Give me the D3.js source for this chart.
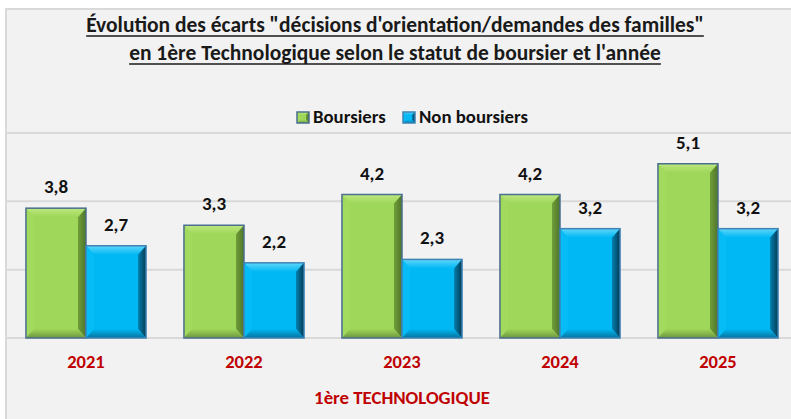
<!DOCTYPE html>
<html><head><meta charset="utf-8">
<script src="https://cdn.jsdelivr.net/npm/d3@7"></script>
<style>
html,body{margin:0;padding:0;background:#fff;}
svg{display:block;}
text{font-family:Carlito,Calibri,"Liberation Sans Narrow","Open Sans",sans-serif;font-weight:bold;}
</style></head>
<body><svg id="c" width="791" height="419"></svg>
<script>
const years = ["2021","2022","2023","2024","2025"];
const boursiers = [3.8, 3.3, 4.2, 4.2, 5.1];
const nonBoursiers = [2.7, 2.2, 2.3, 3.2, 3.2];
const seriesNames = ["Boursiers", "Non boursiers"];
const yTicks = [0, 2, 4, 6];
const titleLines = ["Évolution des écarts \"décisions d'orientation/demandes des familles\"",
                    "en 1ère Technologique selon le statut de boursier et l'année"];
const axisTitle = "1ère TECHNOLOGIQUE";

const svg = d3.select("#c");
const W = 791, H = 419;

// chart area
svg.append("rect").attr("x",6).attr("y",9).attr("width",W).attr("height",H)
  .attr("fill","#f2f2f2").attr("stroke","#d9d9d9").attr("stroke-width",2);

const defs = svg.append("defs");
function grad(id, stops, x2, y2){
  const g = defs.append("linearGradient").attr("id",id).attr("x1",0).attr("y1",0).attr("x2",x2).attr("y2",y2);
  stops.forEach(s=>g.append("stop").attr("offset",s[0]).attr("stop-color",s[1]));
}
const pal = {
  g:{face:"#9ed75a", top:"#bde87f", left:"#a2da5e", right:["#6f9e3a","#4f7428"], bottom:"#6e963e", stroke:"#4a6f8f"},
  b:{face:"#00b8f4", top:"#5fd6fb", left:"#06bcf6", right:["#0480ae","#043a55"], bottom:"#05739e", stroke:"#3f83b5"}
};
["g","b"].forEach(k=>{
  grad("r"+k, [[0,pal[k].right[0]],[1,pal[k].right[1]]],1,0);
  grad("t"+k, [[0,pal[k].top],[1,pal[k].face]],0,1);
  grad("bt"+k, [[0,pal[k].face],[1,pal[k].bottom]],0,1);
});

const x = d3.scaleBand().domain(years).range([7,797]).paddingInner(0.24).paddingOuter(0.12);
const xs = d3.scaleBand().domain(seriesNames).range([0,x.bandwidth()]);
const y = d3.scaleLinear().domain([0,6]).range([338,133]);

// gridlines
svg.append("g").selectAll("line").data(yTicks).join("line")
  .attr("x1",7).attr("x2",W).attr("y1",d=>y(d)).attr("y2",d=>y(d))
  .attr("stroke","#d9d9d9").attr("stroke-width",2);

// title
const tg = svg.append("g");
titleLines.forEach((t,i)=>{
  const by = 32+i*28;
  const tt = tg.append("text").attr("x",395).attr("y",by).attr("text-anchor","middle")
    .attr("font-size",21.5).attr("fill","#1a1a1a").text(t);
  const w = tt.node().getComputedTextLength();
  tg.append("line").attr("x1",395-w/2).attr("x2",395+w/2).attr("y1",by+4).attr("y2",by+4)
    .attr("stroke","#1a1a1a").attr("stroke-width",1.5);
});

// bevel bar
function bar(g, x0, x1, yTop, yBot, k, bv, bvs){
  const p = pal[k];
  const w = x1-x0;
  g.append("rect").attr("x",x0).attr("y",yTop).attr("width",w).attr("height",yBot-yTop).attr("fill",p.face);
  g.append("polygon").attr("points",[[x0,yTop],[x1,yTop],[x1-bvs,yTop+bv],[x0+bvs,yTop+bv]].join(" ")).attr("fill",`url(#t${k})`);
  g.append("polygon").attr("points",[[x0,yTop],[x0+bvs,yTop+bv],[x0+bvs,yBot-bv],[x0,yBot]].join(" ")).attr("fill",p.left);
  g.append("polygon").attr("points",[[x1,yTop],[x1,yBot],[x1-bvs,yBot-bv],[x1-bvs,yTop+bv]].join(" ")).attr("fill",`url(#r${k})`);
  g.append("polygon").attr("points",[[x0,yBot],[x1,yBot],[x1-bvs,yBot-bv],[x0+bvs,yBot-bv]].join(" ")).attr("fill",`url(#bt${k})`);
  g.append("rect").attr("x",x0).attr("y",yTop).attr("width",w).attr("height",yBot-yTop)
    .attr("fill","none").attr("stroke",p.stroke).attr("stroke-width",1.5);
}

const bars = svg.append("g");
const series = [{name:seriesNames[0], vals:boursiers, k:"g"},{name:seriesNames[1], vals:nonBoursiers, k:"b"}];
series.forEach(s=>{
  years.forEach((yr,i)=>{
    const x0 = x(yr)+xs(s.name), x1 = x0+xs.bandwidth();
    bar(bars, x0, x1, y(s.vals[i]), y(0), s.k, 9, 8);
    bars.append("text").attr("x",(x0+x1)/2).attr("y",y(s.vals[i])-15).attr("text-anchor","middle")
      .attr("font-size",19).attr("fill","#111").text(d3.format(".1f")(s.vals[i]).replace(".",","));
  });
});

// x labels
svg.append("g").selectAll("text").data(years).join("text")
  .attr("x",d=>x(d)+x.bandwidth()/2).attr("y",368).attr("text-anchor","middle")
  .attr("font-size",18.5).attr("fill","#c00000").text(d=>d);

svg.append("text").attr("x",402).attr("y",404).attr("text-anchor","middle")
  .attr("font-size",18.8).attr("fill","#c00000").text(axisTitle);

// legend
const lg = svg.append("g");
const lpos = [297, 403];
series.forEach((s,i)=>{
  const gx = lpos[i], gy = 112;
  bar(lg, gx, gx+12, gy, gy+11, s.k, 3, 3);
  lg.append("text").attr("x",gx+16).attr("y",gy+11).attr("font-size",18.8).attr("fill","#111").text(s.name);
});
</script></body></html>
